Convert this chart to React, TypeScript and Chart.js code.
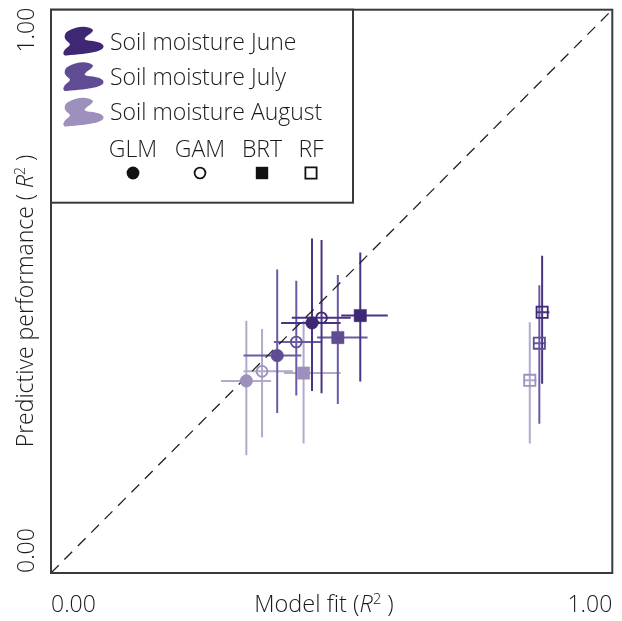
import React, { useEffect, useRef } from 'react';
import { Chart, registerables } from 'chart.js';

Chart.register(...registerables);

// ---------- data ----------
const months = ['June', 'July', 'August'];
const methods = ['GLM', 'GAM', 'BRT', 'RF'];

// Model fit (x) per method: GLM, GAM, BRT, RF
const fitJune = [0.465, 0.482, 0.551, 0.875];
const fitJuneLow = [0.41, 0.429, 0.517, 0.864];
const fitJuneHigh = [0.516, 0.534, 0.6, 0.888];
const fitJuly = [0.403, 0.437, 0.511, 0.87];
const fitJulyLow = [0.343, 0.397, 0.474, 0.859];
const fitJulyHigh = [0.446, 0.483, 0.564, 0.882];
const fitAugust = [0.348, 0.376, 0.45, 0.853];
const fitAugustLow = [0.303, 0.343, 0.415, 0.842];
const fitAugustHigh = [0.392, 0.431, 0.516, 0.865];

// Predictive performance (y)
const predJune = [0.444, 0.453, 0.457, 0.463];
const predJuneLow = [0.323, 0.319, 0.34, 0.336];
const predJuneHigh = [0.594, 0.591, 0.569, 0.563];
const predJuly = [0.386, 0.41, 0.418, 0.408];
const predJulyLow = [0.284, 0.315, 0.3, 0.265];
const predJulyHigh = [0.539, 0.519, 0.529, 0.511];
const predAugust = [0.341, 0.358, 0.355, 0.342];
const predAugustLow = [0.209, 0.241, 0.23, 0.23];
const predAugustHigh = [0.448, 0.433, 0.448, 0.445];

const tickLabels = ['0.00', '1.00'];

// ---------- styles ----------
const markerColors = ['#3f2873', '#5f4c95', '#9d90bc'];
const barColors = ['#4a3582', '#6c5ba4', '#b2a9cc'];
const methodShapes = ['circle', 'circle', 'rect', 'rect'];
const methodFilled = [true, false, true, false];
const FONT = '"Open Sans", "Noto Sans", sans-serif';
const WEIGHT = 350;
const TEXT = '#1a1a1a';
const FRAME = '#3a3a3a';

const fitVals = [fitJune, fitJuly, fitAugust];
const fitLows = [fitJuneLow, fitJulyLow, fitAugustLow];
const fitHighs = [fitJuneHigh, fitJulyHigh, fitAugustHigh];
const predVals = [predJune, predJuly, predAugust];
const predLows = [predJuneLow, predJulyLow, predAugustLow];
const predHighs = [predJuneHigh, predJulyHigh, predAugustHigh];

type Seg = { t: string; italic?: boolean; sup?: boolean };

function drawRich(
  ctx: CanvasRenderingContext2D,
  segs: Seg[],
  x: number,
  y: number,
  align: 'left' | 'center' | 'right',
  size: number,
  rotate: boolean
) {
  ctx.save();
  ctx.translate(x, y);
  if (rotate) ctx.rotate(-Math.PI / 2);
  ctx.fillStyle = TEXT;
  ctx.textBaseline = 'alphabetic';
  ctx.textAlign = 'left';
  const fontOf = (s: Seg) =>
    `${s.italic ? 'italic ' : ''}${WEIGHT} ${s.sup ? Math.round(size * 0.62) : size}px ${FONT}`;
  let total = 0;
  const widths = segs.map((s) => {
    ctx.font = fontOf(s);
    const w = ctx.measureText(s.t).width;
    total += w;
    return w;
  });
  let cx = align === 'left' ? 0 : align === 'center' ? -total / 2 : -total;
  segs.forEach((s, i) => {
    ctx.font = fontOf(s);
    ctx.fillText(s.t, cx, s.sup ? -size * 0.36 : 0);
    cx += widths[i];
  });
  ctx.restore();
}

function drawMarker(
  ctx: CanvasRenderingContext2D,
  shape: string,
  filled: boolean,
  x: number,
  y: number,
  color: string
) {
  ctx.save();
  ctx.beginPath();
  if (shape === 'circle') {
    ctx.arc(x, y, filled ? 6.4 : 5.4, 0, Math.PI * 2);
  } else {
    const h = filled ? 6.2 : 5.6;
    ctx.rect(x - h, y - h, 2 * h, 2 * h);
  }
  if (filled) {
    ctx.fillStyle = color;
    ctx.fill();
  } else {
    ctx.strokeStyle = color;
    ctx.lineWidth = 1.8;
    ctx.stroke();
  }
  ctx.restore();
}

function drawBlob(ctx: CanvasRenderingContext2D, ox: number, oy: number, color: string) {
  const p = (v: number) => v / 3;
  ctx.save();
  ctx.translate(ox, oy);
  ctx.beginPath();
  ctx.moveTo(p(22), p(18));
  ctx.bezierCurveTo(p(45), p(4), p(80), p(-2), p(98), p(12));
  ctx.bezierCurveTo(p(104), p(20), p(78), p(30), p(74), p(40));
  ctx.bezierCurveTo(p(72), p(48), p(122), p(44), p(130), p(60));
  ctx.bezierCurveTo(p(136), p(78), p(90), p(84), p(20), p(90));
  ctx.bezierCurveTo(p(6), p(91), p(6), p(76), p(26), p(62));
  ctx.bezierCurveTo(p(40), p(52), p(12), p(48), p(14), p(32));
  ctx.bezierCurveTo(p(15), p(25), p(18), p(21), p(22), p(18));
  ctx.closePath();
  ctx.fillStyle = color;
  ctx.fill();
  ctx.restore();
}

const errorBarPlugin = {
  id: 'errorBars',
  beforeDatasetsDraw(chart: any) {
    const ctx: CanvasRenderingContext2D = chart.ctx;
    const xs = chart.scales.x;
    const ys = chart.scales.y;
    ctx.save();
    ctx.lineWidth = 2;
    ctx.lineCap = 'butt';
    for (let m = months.length - 1; m >= 0; m--) {
      ctx.strokeStyle = barColors[m];
      for (let k = 0; k < methods.length; k++) {
        const px = xs.getPixelForValue(fitVals[m][k]);
        const py = ys.getPixelForValue(predVals[m][k]);
        ctx.beginPath();
        ctx.moveTo(px, ys.getPixelForValue(predLows[m][k]));
        ctx.lineTo(px, ys.getPixelForValue(predHighs[m][k]));
        ctx.moveTo(xs.getPixelForValue(fitLows[m][k]), py);
        ctx.lineTo(xs.getPixelForValue(fitHighs[m][k]), py);
        ctx.stroke();
      }
    }
    ctx.restore();
  },
};

const decorPlugin = {
  id: 'decor',
  afterDraw(chart: any) {
    const ctx: CanvasRenderingContext2D = chart.ctx;
    const a = chart.chartArea;
    const xs = chart.scales.x;
    const ys = chart.scales.y;

    // frame
    ctx.save();
    ctx.strokeStyle = FRAME;
    ctx.lineWidth = 2;
    ctx.strokeRect(a.left, a.top, a.right - a.left, a.bottom - a.top);

    // legend box
    const lx = a.left, ly = a.top, lw = 302, lh = 193;
    ctx.fillStyle = '#ffffff';
    ctx.fillRect(lx, ly, lw, lh);
    ctx.strokeRect(lx, ly, lw, lh);
    ctx.restore();

    // legend month entries
    months.forEach((mName, i) => {
      drawBlob(ctx, 60, 25.5 + i * 35.5, markerColors[i]);
      drawRich(ctx, [{ t: 'Soil moisture ' + mName }], 110, 50 + i * 34.8, 'left', 23, false);
    });
    // legend method entries
    const mx = [133, 200, 262, 311];
    methods.forEach((name, k) => {
      drawRich(ctx, [{ t: name }], mx[k], 156.5, 'center', 23, false);
      drawMarker(ctx, methodShapes[k], methodFilled[k], mx[k], 173, '#111111');
    });

    // axis tick labels
    const x0 = xs.getPixelForValue(0);
    const x1 = xs.getPixelForValue(1);
    const y0 = ys.getPixelForValue(0);
    const y1 = ys.getPixelForValue(1);
    drawRich(ctx, [{ t: tickLabels[0] }], x0, 612, 'left', 23, false);
    drawRich(ctx, [{ t: tickLabels[1] }], x1, 612, 'right', 23, false);
    drawRich(ctx, [{ t: tickLabels[0] }], 34, y0, 'left', 23, true);
    drawRich(ctx, [{ t: tickLabels[1] }], 34, y1 - 2, 'right', 23, true);

    // axis titles
    drawRich(
      ctx,
      [{ t: 'Model fit (' }, { t: 'R', italic: true }, { t: '2', sup: true }, { t: ' )' }],
      324,
      612,
      'center',
      23.5,
      false
    );
    drawRich(
      ctx,
      [{ t: 'Predictive performance ( ' }, { t: 'R', italic: true }, { t: '2', sup: true }, { t: ' )' }],
      33,
      301,
      'center',
      23,
      true
    );
  },
};

export default function App() {
  const ref = useRef<HTMLCanvasElement | null>(null);

  useEffect(() => {
    if (!ref.current) return;
    const datasets: any[] = [];
    for (let m = 0; m < months.length; m++) {
      for (let k = 0; k < methods.length; k++) {
        const filled = methodFilled[k];
        const isRect = methodShapes[k] === 'rect';
        const r = isRect ? (filled ? 8.7 : 7.9) : filled ? 6.3 : 5.4;
        datasets.push({
          type: 'scatter',
          label: months[m] + ' ' + methods[k],
          data: [{ x: fitVals[m][k], y: predVals[m][k] }],
          pointStyle: methodShapes[k],
          pointRadius: r,
          pointHoverRadius: r,
          backgroundColor: filled ? markerColors[m] : 'rgba(0,0,0,0)',
          borderColor: markerColors[m],
          borderWidth: filled ? 0.5 : 1.8,
        });
      }
    }
    datasets.push({
      type: 'line',
      label: '1:1',
      data: [
        { x: 0, y: 0 },
        { x: 1, y: 1 },
      ],
      borderColor: '#222222',
      borderWidth: 1.3,
      borderDash: [11, 8],
      pointRadius: 0,
      fill: false,
    });

    const chart = new Chart(ref.current, {
      type: 'scatter',
      data: { datasets },
      options: {
        animation: false,
        responsive: false,
        events: [],
        layout: { padding: { left: 51, top: 8, right: 7, bottom: 48 } },
        scales: {
          x: { type: 'linear', min: 0, max: 1, display: false },
          y: { type: 'linear', min: 0, max: 1, display: false },
        },
        plugins: {
          legend: { display: false },
          tooltip: { enabled: false },
        },
      },
      plugins: [errorBarPlugin, decorPlugin],
    });
    return () => chart.destroy();
  }, []);

  return (
    <div style={{ position: 'absolute', left: 0, top: 0, width: 622, height: 621, background: '#fff' }}>
      <canvas ref={ref} width={622} height={621} style={{ display: 'block' }} />
    </div>
  );
}
